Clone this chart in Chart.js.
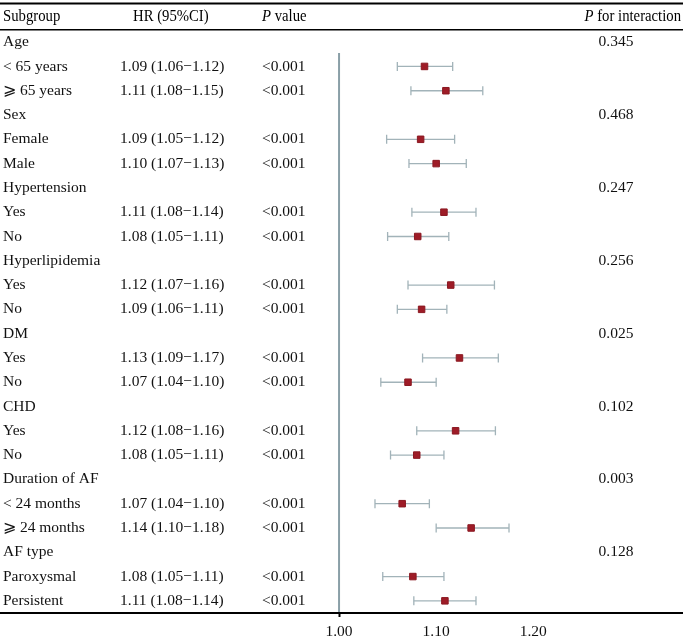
<!DOCTYPE html>
<html>
<head>
<meta charset="utf-8">
<script src="https://cdn.jsdelivr.net/npm/chart.js@4"></script>
<style>
html,body{margin:0;padding:0;background:#fff;overflow:hidden;}
#wrap{position:relative;width:685px;height:642px;}
</style>
</head>
<body>
<div id="wrap"><canvas id="c"></canvas></div>
<script>
// ---- data ----
const subgroups = ["Age","< 65 years","\u2A7E 65 years","Sex","Female","Male","Hypertension","Yes","No",
  "Hyperlipidemia","Yes","No","DM","Yes","No","CHD","Yes","No","Duration of AF","< 24 months","\u2A7E 24 months",
  "AF type","Paroxysmal","Persistent"];
const hrText = ["","1.09 (1.06\u22121.12)","1.11 (1.08\u22121.15)","","1.09 (1.05\u22121.12)","1.10 (1.07\u22121.13)","",
  "1.11 (1.08\u22121.14)","1.08 (1.05\u22121.11)","","1.12 (1.07\u22121.16)","1.09 (1.06\u22121.11)","",
  "1.13 (1.09\u22121.17)","1.07 (1.04\u22121.10)","","1.12 (1.08\u22121.16)","1.08 (1.05\u22121.11)","",
  "1.07 (1.04\u22121.10)","1.14 (1.10\u22121.18)","","1.08 (1.05\u22121.11)","1.11 (1.08\u22121.14)"];
const pValues = ["","<0.001","<0.001","","<0.001","<0.001","","<0.001","<0.001","","<0.001","<0.001","",
  "<0.001","<0.001","","<0.001","<0.001","","<0.001","<0.001","","<0.001","<0.001"];
const pInteraction = ["0.345","","","0.468","","","0.247","","","0.256","","","0.025","","","0.102","","",
  "0.003","","","0.128","",""];
const hr = [null,1.088,1.110,null,1.084,1.100,null,1.108,1.081,null,1.115,1.085,null,1.124,1.071,null,1.120,1.080,null,1.065,1.136,null,1.076,1.109];
const lo = [null,1.060,1.074,null,1.049,1.072,null,1.075,1.050,null,1.071,1.060,null,1.086,1.043,null,1.080,1.053,null,1.037,1.100,null,1.045,1.077];
const hi = [null,1.117,1.148,null,1.119,1.131,null,1.141,1.113,null,1.160,1.111,null,1.164,1.100,null,1.161,1.108,null,1.093,1.175,null,1.108,1.141];
const xTicks = [1.00, 1.10, 1.20];
const refValue = 1.00;

// ---- build datasets ----
const markerData = [];
const ciData = [];
hr.forEach((v,i)=>{
  if (v === null) return;
  markerData.push({x:v, y:i});
  ciData.push({x:lo[i], y:i});
  ciData.push({x:hi[i], y:i});
});

const FONT = '"Liberation Serif","DejaVu Serif","Times New Roman",serif';
const CI_COLOR = '#a2b3b9';

const tablePlugin = {
  id:'table',
  afterDraw(chart){
    const ctx = chart.ctx;
    const ys = chart.scales.y;
    ctx.save();
    ctx.fillStyle = '#000';
    ctx.fillRect(0, 2.5, 683, 2);
    ctx.fillRect(0, 29, 683, 1.5);
    const b = chart.chartArea.bottom;
    ctx.fillRect(0, b - 1, 683, 2);

    // header
    const hy = 17;
    const hfont = '16px ' + FONT;
    const hifont = 'italic 16px ' + FONT;
    const sx = 0.92;
    function hdr(parts, x, align){
      ctx.save();
      let total = 0;
      parts.forEach(p=>{ ctx.font = p[1]; total += ctx.measureText(p[0]).width; });
      ctx.translate(x, hy);
      ctx.scale(sx, 1);
      let cx = align === 'right' ? -total : 0;
      ctx.textBaseline = 'middle';
      ctx.textAlign = 'left';
      parts.forEach(p=>{ ctx.font = p[1]; ctx.fillText(p[0], cx, 0); cx += ctx.measureText(p[0]).width; });
      ctx.restore();
    }
    hdr([["Subgroup",hfont]], 3, 'left');
    hdr([["HR (95%CI)",hfont]], 133, 'left');
    hdr([["P",hifont],[" value",hfont]], 262, 'left');
    hdr([["P",hifont],[" for interaction",hfont]], 681, 'right');

    // rows
    ctx.font = '15.5px ' + FONT;
    ctx.textBaseline = 'middle';
    ctx.fillStyle = '#111';
    subgroups.forEach((s,i)=>{
      const y = ys.getPixelForValue(i);
      ctx.textAlign = 'left';
      ctx.fillText(s, 3, y);
      if (hrText[i]) ctx.fillText(hrText[i], 120, y);
      if (pValues[i]) ctx.fillText(pValues[i], 262, y);
      if (pInteraction[i]) { ctx.textAlign = 'center'; ctx.fillText(pInteraction[i], 616, y); }
    });
    ctx.restore();
  }
};

new Chart(document.getElementById('c'), {
  type: 'scatter',
  data: {
    datasets: [
      {
        label: 'HR',
        data: markerData,
        pointStyle: 'rect',
        pointRadius: 4.6,
        backgroundColor: '#9e1c27',
        borderColor: '#8a1821',
        borderWidth: 1,
        order: 0
      },
      {
        label: '95% CI',
        data: ciData,
        showLine: true,
        borderColor: CI_COLOR,
        borderWidth: 1.3,
        pointStyle: 'line',
        rotation: 90,
        pointRadius: 4.5,
        pointBorderColor: CI_COLOR,
        pointBorderWidth: 1.3,
        segment: { borderColor: c => c.p0.parsed.y === c.p1.parsed.y ? CI_COLOR : 'rgba(0,0,0,0)' },
        order: 1
      },
      {
        label: 'ref',
        data: [{x:refValue, y:0.45},{x:refValue, y:23.5}],
        showLine: true,
        borderColor: '#8a9fa7',
        borderWidth: 2,
        pointRadius: 0,
        order: 2
      }
    ]
  },
  options: {
    responsive: true,
    maintainAspectRatio: false,
    animation: false,
    layout: { padding: { top: 30, left: 0, right: 2, bottom: 0 } },
    plugins: { legend: { display: false }, tooltip: { enabled: false } },
    scales: {
      x: {
        type: 'linear',
        min: 0.65685,
        max: 1.35025,
        afterBuildTicks: s => { s.ticks = xTicks.map(v => ({ value: v })); },
        afterFit: s => { s.height = 29; },
        ticks: {
          callback: v => Number(v).toFixed(2),
          font: { family: FONT, size: 15.5 },
          color: '#111',
          padding: 6,
          maxRotation: 0,
          autoSkip: false
        },
        grid: {
          display: true,
          drawOnChartArea: false,
          drawTicks: true,
          tickLength: 4,
          tickWidth: 2,
          tickColor: c => (c.tick && Math.abs(c.tick.value - refValue) < 1e-9) ? '#000' : 'rgba(0,0,0,0)'
        },
        border: { display: true, color: '#000', width: 2 }
      },
      y: {
        type: 'linear',
        display: false,
        min: -0.5,
        max: 23.5,
        reverse: true
      }
    }
  },
  plugins: [tablePlugin]
});
</script>
</body>
</html>
